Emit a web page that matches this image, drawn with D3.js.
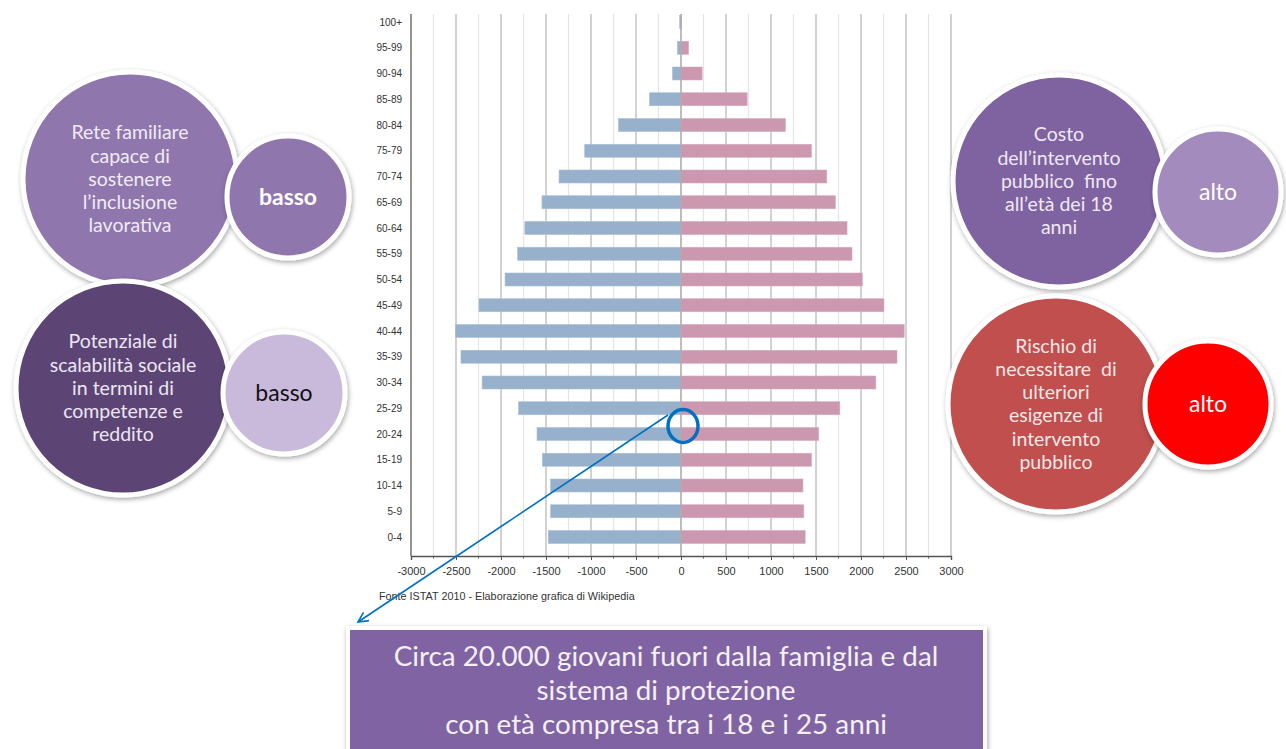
<!DOCTYPE html>
<html>
<head>
<meta charset="utf-8">
<script src="https://cdn.jsdelivr.net/npm/d3@7"></script>
<style>
  body { margin: 0; background: #fff; }
  svg { display: block; }
</style>
</head>
<body>
<div id="chart"></div>
<script>
// DATA (ISTAT 2010 pyramid)
var ageGroups = ["100+","95-99","90-94","85-89","80-84","75-79","70-74","65-69","60-64","55-59",
  "50-54","45-49","40-44","35-39","30-34","25-29","20-24","15-19","10-14","5-9","0-4"];
var maleValues = [15, 40, 95, 350, 695, 1070, 1355, 1545, 1735, 1815,
  1955, 2245, 2505, 2445, 2210, 1805, 1600, 1540, 1450, 1450, 1475];
var femaleValues = [5, 85, 235, 735, 1160, 1450, 1620, 1715, 1845, 1900,
  2015, 2255, 2480, 2400, 2165, 1765, 1530, 1450, 1355, 1365, 1380];
var xTickValues = [-3000, -2500, -2000, -1500, -1000, -500, 0, 500, 1000, 1500, 2000, 2500, 3000];
var sourceText = "Fonte ISTAT 2010 - Elaborazione grafica di Wikipedia";

var leftBubbles = [
  { lines: ["Rete familiare", "capace di", "sostenere", "l\u2019inclusione", "lavorativa"], tag: "basso" },
  { lines: ["Potenziale di", "scalabilit\u00e0 sociale", "in termini di", "competenze e", "reddito"], tag: "basso" }
];
var rightBubbles = [
  { lines: ["Costo", "dell\u2019intervento", "pubblico  fino", "all\u2019et\u00e0 dei 18", "anni"], tag: "alto" },
  { lines: ["Rischio di", "necessitare  di", "ulteriori", "esigenze di", "intervento", "pubblico"], tag: "alto" }
];
var boxLines = ["Circa 20.000 giovani fuori dalla famiglia e dal", "sistema di protezione",
  "con et\u00e0 compresa tra i 18 e i 25 anni"];

var W = 1286, H = 749;
var svg = d3.select("#chart").append("svg")
  .attr("width", W)
  .attr("height", H);

var defs = svg.append("defs");
var shadow = defs.append("filter").attr("id", "shadow")
  .attr("x", "-20%").attr("y", "-20%").attr("width", "140%").attr("height", "140%");
shadow.append("feDropShadow")
  .attr("dx", 1).attr("dy", 2).attr("stdDeviation", 2.5)
  .attr("flood-color", "#000").attr("flood-opacity", 0.35);

var marker = defs.append("marker").attr("id", "arrow")
  .attr("viewBox", "0 0 12 12").attr("refX", 11).attr("refY", 6)
  .attr("markerWidth", 12).attr("markerHeight", 12)
  .attr("markerUnits", "userSpaceOnUse")
  .attr("orient", "auto");
marker.append("path").attr("d", "M1,1 L11,6 L1,11")
  .attr("fill", "none").attr("stroke", "#0070c0").attr("stroke-width", 1.6);

// SCALES
var x = d3.scaleLinear().domain([-3000, 3000]).range([411, 951]);
var y = d3.scalePoint().domain(ageGroups).range([22, 537]);
var plotTop = 14, plotBottom = 556;
var barH = 13;

var chart = svg.append("g").attr("font-family", "'Liberation Sans', Arial, sans-serif");

// gridlines every 250, darker on 500s
var gridVals = d3.range(-2750, 3001, 250);
chart.selectAll("line.grid").data(gridVals).enter().append("line")
  .attr("class", "grid")
  .attr("x1", function (d) { return x(d); })
  .attr("x2", function (d) { return x(d); })
  .attr("y1", plotTop).attr("y2", plotBottom)
  .attr("stroke", function (d) { return d % 500 === 0 ? "#b4b4b4" : "#e4e4e4"; })
  .attr("stroke-width", 1.2);

// bars
chart.selectAll("rect.male").data(ageGroups).enter().append("rect")
  .attr("class", "male")
  .attr("x", function (d, i) { return x(-maleValues[i]); })
  .attr("y", function (d) { return y(d) - barH / 2; })
  .attr("width", function (d, i) { return x(0) - x(-maleValues[i]); })
  .attr("height", barH)
  .attr("fill", "#97b0cb")
  .attr("stroke", "#a9c0d8").attr("stroke-width", 0.6);

chart.selectAll("rect.female").data(ageGroups).enter().append("rect")
  .attr("class", "female")
  .attr("x", x(0))
  .attr("y", function (d) { return y(d) - barH / 2; })
  .attr("width", function (d, i) { return x(femaleValues[i]) - x(0); })
  .attr("height", barH)
  .attr("fill", "#cb98b0")
  .attr("stroke", "#d8aac0").attr("stroke-width", 0.6);

// zero line
chart.append("line")
  .attr("x1", x(0)).attr("x2", x(0))
  .attr("y1", plotTop).attr("y2", plotBottom)
  .attr("stroke", "#a8a8a8").attr("stroke-width", 1);

// left axis (age labels)
var yAxis = d3.axisLeft(y).tickSize(0).tickPadding(9);
var gy = chart.append("g").attr("transform", "translate(" + x(-3000) + ",0)").call(yAxis);
gy.select(".domain").remove();
gy.selectAll("text").attr("font-size", 10).attr("fill", "#333")
  .attr("font-family", "'Liberation Sans', Arial, sans-serif");
chart.append("line")
  .attr("x1", x(-3000)).attr("x2", x(-3000))
  .attr("y1", plotTop).attr("y2", plotBottom)
  .attr("stroke", "#666").attr("stroke-width", 1.4);

// bottom axis
var xAxis = d3.axisBottom(x).tickValues(xTickValues).tickSize(4).tickPadding(7)
  .tickFormat(d3.format("d"));
var gx = chart.append("g").attr("transform", "translate(0," + plotBottom + ")").call(xAxis);
gx.select(".domain").attr("stroke", "#555").attr("stroke-width", 1.4);
gx.selectAll(".tick line").attr("stroke", "#555");
gx.selectAll("text").attr("font-size", 11).attr("fill", "#333")
  .attr("font-family", "'Liberation Sans', Arial, sans-serif")
  .text(function (d) { return String(d); });
var minorVals = gridVals.filter(function (d) { return d % 500 !== 0; });
gx.selectAll("line.minor").data(minorVals).enter().append("line")
  .attr("class", "minor")
  .attr("x1", function (d) { return x(d); }).attr("x2", function (d) { return x(d); })
  .attr("y1", 0).attr("y2", 2.5).attr("stroke", "#555");

chart.append("text")
  .attr("x", 379).attr("y", 600)
  .attr("font-size", 10.8).attr("fill", "#333")
  .text(sourceText);

// BUBBLES
var bubbleFont = "Lato, 'Open Sans', sans-serif";
function drawBubble(cx, cy, r, fill, lines, textColor, fontSize, lineH, weight) {
  var g = svg.append("g");
  g.append("circle")
    .attr("cx", cx).attr("cy", cy).attr("r", r)
    .attr("fill", fill)
    .attr("stroke", "#fff").attr("stroke-width", 5)
    .attr("filter", "url(#shadow)");
  var startY = cy - (lines.length - 1) * lineH / 2;
  g.selectAll("text").data(lines).enter().append("text")
    .attr("x", cx)
    .attr("y", function (d, i) { return startY + i * lineH; })
    .attr("dy", "0.35em")
    .attr("text-anchor", "middle")
    .attr("font-family", bubbleFont)
    .attr("font-size", fontSize)
    .attr("font-weight", weight || "normal")
    .attr("fill", textColor)
    .style("white-space", "pre")
    .text(function (d) { return d; });
}

// left side
drawBubble(130, 179, 107, "#8f76ad", leftBubbles[0].lines, "#f1ebf6", 19.5, 23.2);
drawBubble(288, 197, 61, "#8f76ad", [leftBubbles[0].tag], "#ffffff", 23, 23, "bold");
drawBubble(123, 388, 107, "#5c4574", leftBubbles[1].lines, "#ece6f2", 19.5, 23.2);
drawBubble(284, 393, 61, "#c9b9da", [leftBubbles[1].tag], "#111111", 23, 23);

// right side
drawBubble(1059, 181, 106, "#7f62a0", rightBubbles[0].lines, "#efe9f5", 19.5, 23.2);
drawBubble(1218, 192, 63, "#a48bbd", [rightBubbles[0].tag], "#ffffff", 23, 23);
drawBubble(1056, 404, 108, "#c0504d", rightBubbles[1].lines, "#f6e6e6", 19.5, 23.2);
drawBubble(1208, 404, 63, "#ff0000", [rightBubbles[1].tag], "#ffffff", 23, 23);

// BOTTOM BOX
var box = svg.append("g");
box.append("rect")
  .attr("x", 348).attr("y", 628).attr("width", 637).attr("height", 130)
  .attr("fill", "#8064a2")
  .attr("stroke", "#fff").attr("stroke-width", 4)
  .attr("filter", "url(#shadow)");
box.selectAll("text").data(boxLines).enter().append("text")
  .attr("x", 666)
  .attr("y", function (d, i) { return 656 + i * 34; })
  .attr("dy", "0.35em")
  .attr("text-anchor", "middle")
  .attr("font-family", bubbleFont)
  .attr("font-size", 27.8)
  .attr("fill", "#f4f0f8")
  .text(function (d) { return d; });

// ANNOTATION: circle on 20-24 and arrow
svg.append("ellipse")
  .attr("cx", x(0) + 2).attr("cy", y("20-24") - 8)
  .attr("rx", 15).attr("ry", 16.5)
  .attr("fill", "none").attr("stroke", "#0070c0").attr("stroke-width", 3.5);
svg.append("line")
  .attr("x1", x(0) - 13).attr("y1", y("20-24") - 19)
  .attr("x2", 358).attr("y2", 622)
  .attr("stroke", "#0070c0").attr("stroke-width", 1.6)
  .attr("marker-end", "url(#arrow)");
</script>
</body>
</html>
